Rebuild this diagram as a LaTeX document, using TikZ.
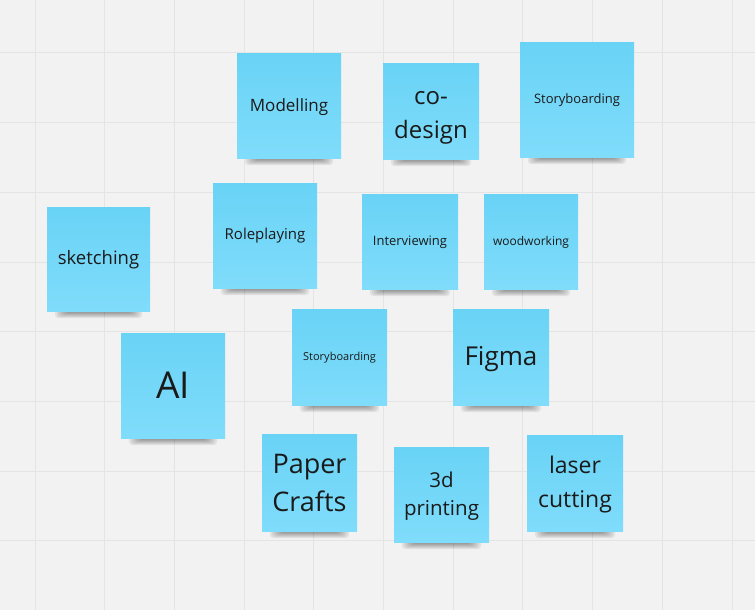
\documentclass[tikz,border=0pt]{standalone}
\usepackage{fontspec}
\setmainfont{Open Sans}
\definecolor{bgc}{HTML}{F2F2F2}
\definecolor{gridc}{HTML}{E4E4E4}
\definecolor{notetop}{HTML}{69D3F6}
\definecolor{notebot}{HTML}{80DCFB}
\definecolor{inkc}{HTML}{1A1A1A}
\tikzset{
  notebox/.style={inner sep=0pt, outer sep=0pt, align=center, text=inkc,
    top color=notetop, bottom color=notebot, draw=none},
}
% [node opts] name, left, top, right, bottom, font size, baselineskip, text
\newcommand{\stickynote}[9][]{%
  \foreach \i in {0,...,5}{%
    \fill[black,opacity=0.065,rounded corners=3pt]
      ({#3+8+2*\i},{#6-6}) rectangle ({#5-8-2*\i},{#6+7-\i});
  }%
  \node[notebox, minimum width={(#5-#3)*1pt}, minimum height={(#6-#4)*1pt},
        font=\fontsize{#7}{#8}\selectfont] (#2) at ({(#3+#5)/2},{(#4+#6)/2}) {};
  \node[inner sep=0pt, align=center, text=inkc, font=\fontsize{#7}{#8}\selectfont, #1]
        at (#2.center) {#9};
}
\begin{document}
\begin{tikzpicture}[x=1pt,y=-1pt]
\fill[bgc] (0,0) rectangle (755,610);
\useasboundingbox (0,0) rectangle (755,610);
\foreach \gx in {35,104.7,174.4,244.1,313.8,383.5,453.2,522.9,592.6,662.3,732}
  \draw[gridc,line width=1pt] (\gx,0) -- (\gx,610);
\foreach \gy in {53,122.7,192.4,262.1,331.8,401.5,471.2,540.9}
  \draw[gridc,line width=1pt] (0,\gy) -- (755,\gy);

\stickynote[yshift=-1pt]{modelling}{237}{54}{341}{158}{17}{20}{Modelling}
\stickynote[yshift=-6pt]{codesign}{383}{64}{479}{159}{24}{34}{co-\\design}
\stickynote{storytop}{520}{43}{634}{157}{13}{16}{Storyboarding}
\stickynote[yshift=-1pt]{sketching}{47}{207}{150}{311}{18.5}{22}{sketching}
\stickynote{roleplay}{213}{183}{317}{288}{15}{18}{Roleplaying}
\stickynote[yshift=-1pt]{interview}{362}{194}{458}{289}{13}{16}{Interviewing}
\stickynote[yshift=-1pt]{wood}{484}{194}{578}{289}{12}{15}{woodworking}
\stickynote{ai}{121}{333}{225}{438}{37}{44}{AI}
\stickynote[yshift=-1pt]{storymid}{292}{309}{387}{405}{11}{14}{Storyboarding}
\stickynote[yshift=-2pt]{figma}{453}{309}{549}{405}{26}{30}{Figma}
\stickynote{paper}{262}{434}{357}{531}{27}{38}{Paper\\Crafts}
\stickynote[yshift=-1.5pt]{print}{394}{447}{489}{542}{20.5}{28}{3d\\printing}
\stickynote[yshift=-1.5pt]{laser}{527}{435}{623}{531}{23}{34}{laser\\cutting}
\end{tikzpicture}
\end{document}
